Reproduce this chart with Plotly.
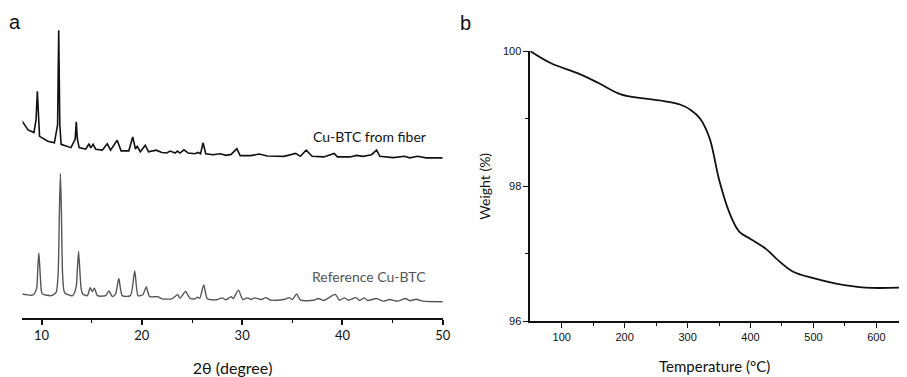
import plotly.graph_objects as go

# ---------- Panel a: XRD (2theta, intensity in arbitrary units) ----------
fiber_2theta = [8.05, 8.65, 9.24, 9.45, 9.58, 9.7, 9.8, 10.63, 11.28, 11.6, 11.71, 11.82, 11.95,
                12.93, 13.35, 13.46, 13.57, 13.75, 14.4, 14.74, 14.9, 15.14, 15.4, 16.06, 16.55,
                16.88, 17.54, 17.93, 18.7, 19.09, 19.36, 19.52, 19.85, 20.34, 20.67, 21.43, 21.99,
                22.48, 22.82, 23.32, 23.54, 23.8, 24.2, 24.62, 25.28, 25.6, 25.85, 26.1, 26.37,
                27.1, 27.8, 28.4, 28.9, 29.47, 29.8, 30.88, 31.7, 32.5, 34.18, 35.33, 35.8, 36.38,
                36.98, 38.13, 39.18, 39.5, 40.76, 41.4, 42.06, 42.9, 43.4, 43.73, 45.05, 46.2,
                46.7, 47.5, 48.34, 50.0]
fiber_int = [204, 194.7, 192, 205, 234.7, 200, 188, 183, 181.3, 200, 298, 200, 179.7,
             176.3, 185, 203, 185, 176.3, 174.7, 180.3, 176, 179.7, 174.7, 173.7, 180.3,
             173.7, 184, 173, 173, 187.3, 174.7, 178, 172, 178.7, 172, 173.7, 171.3,
             170.7, 172.7, 170.7, 172.7, 170.7, 174, 170.7, 170, 171.3, 170, 181.3, 170,
             169, 170, 168.3, 169.3, 175.3, 168, 168, 169.7, 167.7, 167.3, 170.3, 167.3, 173.7,
             167.3, 166.7, 170.3, 166.7, 166.7, 168.3, 167.3, 169, 173.7, 167.3, 166, 167.3,
             165.7, 167.3, 165.7, 165.7]

ref_2theta = [8.05, 9.14, 9.5, 9.62, 9.73, 9.84, 9.98, 10.1, 10.96, 11.45, 11.65, 11.78, 11.88,
              11.98, 12.1, 12.3, 13.1, 13.45, 13.58, 13.69, 13.8, 13.95, 14.1, 14.57, 14.84,
              15.04, 15.27, 15.57, 16.39, 16.72, 17.05, 17.38, 17.7, 18.04, 18.86, 19.29, 19.62,
              20.1, 20.44, 20.77, 21.56, 22.0, 22.98, 23.57, 23.8, 24.36, 24.79, 25.28, 25.55,
              25.77, 26.17, 26.53, 27.42, 28.0, 28.4, 28.9, 29.1, 29.63, 30.05, 30.5, 30.9,
              31.2, 31.9, 32.36, 32.86, 34.18, 34.67, 35.0, 35.43, 35.83, 37.14, 37.6, 38.13,
              39.28, 39.7, 40.2, 40.6, 41.35, 41.7, 42.2, 42.5, 43.4, 44.06, 44.7, 45.5, 46.3,
              46.7, 47.35, 48.0, 50.0]
ref_int = [24.7, 23.7, 30, 50, 67.3, 50, 28, 24.7, 23, 26.3, 45, 110, 149.7,
           110, 45, 26, 23, 32, 52, 68.7, 52, 30, 24.7, 23, 31.3,
           27.3, 30.7, 23, 23, 28, 22, 24.7, 40.7, 23, 23, 48.7, 23,
           24, 32, 22, 22, 19.7, 19.7, 24, 20.3, 27.3, 20.3, 19.7, 21.3,
           20.3, 34, 19.7, 18.7, 20.7, 18.7, 22, 20, 28.7, 19, 20.7, 19,
           20.7, 19, 21, 18.3, 19, 21, 19, 24.7, 18.3, 18.3, 20, 18,
           24.3, 18.3, 20.7, 18.3, 21, 18, 20.7, 18, 20, 17.3, 19, 17.3, 20,
           17.7, 19.3, 17.3, 16.7]

xrd_ticks = [10, 20, 30, 40, 50]

# ---------- Panel b: TGA ----------
temp_c = [50, 83, 126, 160, 194, 230, 262, 288, 305, 320, 335, 350, 366, 382, 400, 425, 441,
          467, 500, 536, 583, 636]
weight_pct = [100, 99.82, 99.67, 99.52, 99.36, 99.3, 99.26, 99.21, 99.13, 99.0, 98.71, 98.1,
              97.62, 97.33, 97.22, 97.07, 96.93, 96.74, 96.64, 96.56, 96.5, 96.5]

tga_xticks = [100, 200, 300, 400, 500, 600]
tga_yticks = [96, 98, 100]

W, H = 907, 377

def py(px):
    return 1 - px / H

fig = go.Figure()
fig.add_trace(go.Scatter(x=fiber_2theta, y=fiber_int, mode="lines",
                         line=dict(color="#111111", width=1.6), xaxis="x", yaxis="y",
                         showlegend=False))
fig.add_trace(go.Scatter(x=ref_2theta, y=ref_int, mode="lines", line_shape="spline",
                         line=dict(color="#555555", width=1.4, smoothing=0.6),
                         xaxis="x", yaxis="y", showlegend=False))
fig.add_trace(go.Scatter(x=temp_c, y=weight_pct, mode="lines", line_shape="spline",
                         line=dict(color="#111111", width=1.8), xaxis="x2", yaxis="y2",
                         showlegend=False))

gill = "Lato, 'Open Sans', sans-serif"
arial = "'Liberation Sans', Arial, sans-serif"

fig.update_layout(
    width=W, height=H,
    margin=dict(l=0, r=0, t=0, b=0),
    paper_bgcolor="white", plot_bgcolor="white",
    xaxis=dict(domain=[22.7 / W, 446.7 / W], range=[8.1, 50], tickvals=xrd_ticks,
               showline=True, linecolor="#111", linewidth=1.8, ticks="outside",
               ticklen=5, tickwidth=1.5, tickcolor="#111",
               minor=dict(tickvals=[15, 25, 35, 45], ticks="outside", ticklen=3,
                          tickwidth=1.2, tickcolor="#111"),
               showgrid=False, zeroline=False,
               tickfont=dict(family=gill, size=13, color="#111"),
               title=dict(text="2θ (degree)", font=dict(family=gill, size=16, color="#111"),
                          standoff=22),
               anchor="y"),
    yaxis=dict(domain=[py(323), py(23)], range=[0, 300], visible=False),
    xaxis2=dict(domain=[535 / W, 1.0], range=[50, 636], tickvals=tga_xticks,
                showline=True, linecolor="#111", linewidth=1.6, ticks="outside",
                ticklen=5, tickwidth=1.4, tickcolor="#111",
                minor=dict(tickvals=[150, 250, 350, 450, 550], ticks="outside", ticklen=3,
                           tickwidth=1.2, tickcolor="#111"),
                showgrid=False, zeroline=False,
                tickfont=dict(family=arial, size=11, color="#111"),
                title=dict(text="Temperature (°C)", font=dict(family=gill, size=15, color="#111"),
                           standoff=19),
                anchor="y2"),
    yaxis2=dict(domain=[py(326.7), py(46.7)], range=[96, 100], tickvals=tga_yticks,
                showline=True, linecolor="#111", linewidth=1.6, ticks="outside",
                ticklen=5, tickwidth=1.4, tickcolor="#111",
                minor=dict(tickvals=[97, 99], ticks="outside", ticklen=3,
                           tickwidth=1.2, tickcolor="#111"),
                showgrid=False, zeroline=False,
                tickfont=dict(family=arial, size=11, color="#111"),
                title=dict(text="Weight (%)", font=dict(family=gill, size=14, color="#111"),
                           standoff=9),
                anchor="x2"),
    annotations=[
        dict(text="a", x=15 / W, y=py(17), xref="paper", yref="paper", showarrow=False,
             font=dict(family=arial, size=20, color="#111"), xanchor="center", yanchor="middle"),
        dict(text="b", x=470 / W, y=py(18), xref="paper", yref="paper", showarrow=False,
             font=dict(family=arial, size=20, color="#111"), xanchor="center", yanchor="middle"),
        dict(text="Cu-BTC from fiber", x=373 / W, y=py(135), xref="paper", yref="paper",
             showarrow=False, font=dict(family=gill, size=14, color="#111"),
             xanchor="center", yanchor="middle"),
        dict(text="Reference Cu-BTC", x=372.5 / W, y=py(280), xref="paper", yref="paper",
             showarrow=False, font=dict(family=gill, size=14, color="#555"),
             xanchor="center", yanchor="middle"),
    ],
)

fig.write_html("out.html", config={"displayModeBar": False},
               post_script="document.body.style.margin='0';document.body.style.overflow='hidden';")
